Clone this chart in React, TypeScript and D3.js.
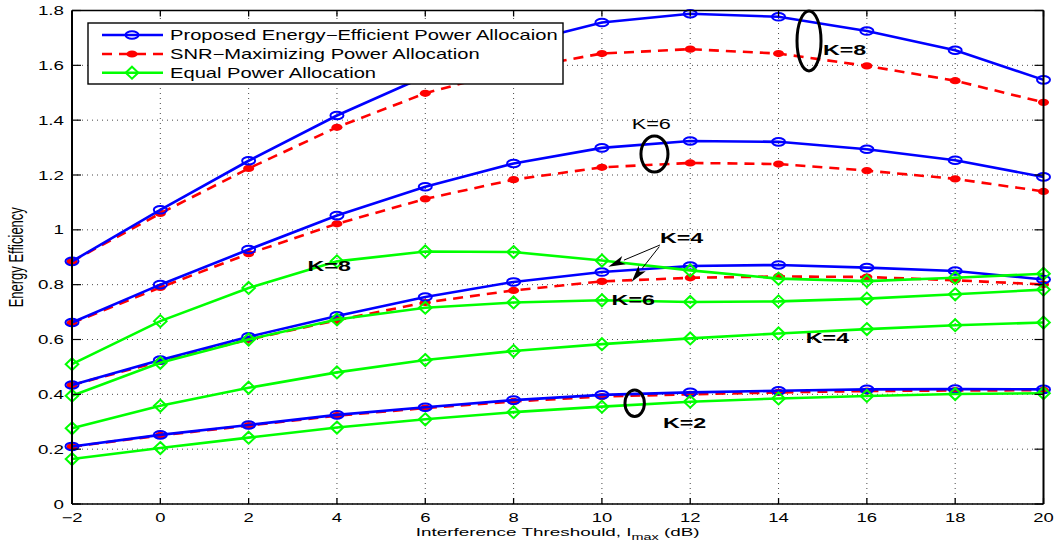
import React from "react";
import * as d3 from "d3";

const xValues = [-2, 0, 2, 4, 6, 8, 10, 12, 14, 16, 18, 20];

const proposedK8 = [0.885, 1.073, 1.252, 1.417, 1.56, 1.675, 1.756, 1.788, 1.777, 1.725, 1.655, 1.547];
const proposedK6 = [0.662, 0.8, 0.928, 1.052, 1.157, 1.242, 1.299, 1.324, 1.321, 1.294, 1.254, 1.193];
const proposedK4 = [0.434, 0.525, 0.61, 0.686, 0.755, 0.81, 0.846, 0.868, 0.872, 0.862, 0.85, 0.819];
const proposedK2 = [0.21, 0.252, 0.288, 0.325, 0.353, 0.379, 0.398, 0.407, 0.413, 0.418, 0.419, 0.418];

const snrK8 = [0.885, 1.06, 1.224, 1.374, 1.498, 1.585, 1.643, 1.659, 1.643, 1.598, 1.544, 1.465];
const snrK6 = [0.66, 0.79, 0.913, 1.022, 1.113, 1.183, 1.228, 1.244, 1.24, 1.216, 1.186, 1.14];
const snrK4 = [0.434, 0.52, 0.6, 0.67, 0.735, 0.779, 0.812, 0.825, 0.83, 0.828, 0.816, 0.801];
const snrK2 = [0.209, 0.25, 0.286, 0.322, 0.35, 0.374, 0.392, 0.4, 0.407, 0.412, 0.414, 0.415];

const equalK8 = [0.51, 0.667, 0.788, 0.885, 0.921, 0.919, 0.888, 0.852, 0.822, 0.813, 0.825, 0.84];
const equalK6 = [0.395, 0.515, 0.6, 0.673, 0.716, 0.735, 0.743, 0.737, 0.739, 0.749, 0.765, 0.782];
const equalK4 = [0.276, 0.358, 0.424, 0.48, 0.525, 0.558, 0.583, 0.604, 0.622, 0.638, 0.652, 0.662];
const equalK2 = [0.164, 0.204, 0.242, 0.279, 0.309, 0.335, 0.355, 0.373, 0.385, 0.394, 0.401, 0.404];

const xTicks = [-2, 0, 2, 4, 6, 8, 10, 12, 14, 16, 18, 20];
const xTickLabels = ["\u22122", "0", "2", "4", "6", "8", "10", "12", "14", "16", "18", "20"];
const yTicks = [0, 0.2, 0.4, 0.6, 0.8, 1, 1.2, 1.4, 1.6, 1.8];
const yTickLabels = ["0", "0.2", "0.4", "0.6", "0.8", "1", "1.2", "1.4", "1.6", "1.8"];

const legendLabels = [
  "Proposed Energy\u2212Efficient Power Allocaion",
  "SNR\u2212Maximizing Power Allocation",
  "Equal Power Allocation",
];

// annotations in data units
const ellipses = [
  { cx: 14.69, cy: 1.689, rx: 0.272, ry: 0.1094 },
  { cx: 11.19, cy: 1.2766, rx: 0.306, ry: 0.0657 },
  { cx: 10.742, cy: 0.3673, rx: 0.2197, ry: 0.0485 },
];
const labels = [
  { text: "K=8", x: 15.006, y: 1.638, bold: true },
  { text: "K=6", x: 10.674, y: 1.366, bold: false },
  { text: "K=4", x: 11.315, y: 0.952, bold: true },
  { text: "K=6", x: 10.22, y: 0.7258, bold: true },
  { text: "K=8", x: 3.335, y: 0.8498, bold: true },
  { text: "K=4", x: 14.617, y: 0.5883, bold: true },
  { text: "K=2", x: 11.383, y: 0.2772, bold: true },
];
const arrows = [
  { x1: 11.315, y1: 0.9447, x2: 10.145, y2: 0.8655 },
  { x1: 11.299, y1: 0.9385, x2: 10.674, y2: 0.8108 },
];

const FONT = "'Liberation Sans', Arial, Helvetica, sans-serif";
const BLUE = "#0000ff";
const RED = "#ff0000";
const GREEN = "#00ff00";

export default function App() {
  const x = d3.scaleLinear().domain([-2, 20]).range([72, 1043.5]);
  const y = d3.scaleLinear().domain([0, 1.8]).range([504, 10.5]);
  const line = d3
    .line<number>()
    .x((_, i) => x(xValues[i]))
    .y((d) => y(d));

  const [x0, x1] = x.range();
  const [yb, yt] = y.range();

  const circle = (cx: number, cy: number, k: string) => (
    <ellipse key={k} cx={cx} cy={cy} rx={6.5} ry={3.8} fill="none" stroke={BLUE} strokeWidth={2} />
  );
  const dot = (cx: number, cy: number, k: string) => (
    <ellipse key={k} cx={cx} cy={cy} rx={5.5} ry={3.6} fill={RED} />
  );
  const diamond = (cx: number, cy: number, k: string) => (
    <path
      key={k}
      d={`M${cx},${cy - 6}L${cx + 6.3},${cy}L${cx},${cy + 6}L${cx - 6.3},${cy}Z`}
      fill="none"
      stroke={GREEN}
      strokeWidth={2}
    />
  );

  const snr = [snrK8, snrK6, snrK4, snrK2];
  const prop = [proposedK8, proposedK6, proposedK4, proposedK2];
  const eq = [equalK8, equalK6, equalK4, equalK2];

  const arrowHead = (a: { x1: number; y1: number; x2: number; y2: number }) => {
    const px1 = x(a.x1), py1 = y(a.y1), px2 = x(a.x2), py2 = y(a.y2);
    const dx = px2 - px1, dy = py2 - py1;
    const L = Math.hypot(dx, dy);
    const ux = dx / L, uy = dy / L;
    const hl = 17, hw = 4.5;
    const bx = px2 - ux * hl, by = py2 - uy * hl;
    const pts = [
      [px2, py2],
      [bx - uy * hw, by + ux * hw],
      [px2 - ux * hl * 0.75, py2 - uy * hl * 0.75],
      [bx + uy * hw, by - ux * hw],
    ];
    return { px1, py1, bx, by, pts };
  };

  return (
    <div style={{ position: "absolute", left: 0, top: 0 }}>
      <svg width={1058} height={548} style={{ display: "block", background: "#fff" }} fontFamily={FONT}>
        <rect x={0} y={0} width={1058} height={548} fill="#fff" />
        {/* grid */}
        {xTicks.map((t, i) => (
          <line key={"gx" + i} x1={x(t)} x2={x(t)} y1={yb} y2={yt} stroke="#333" strokeWidth={0.9} strokeDasharray="1,4" />
        ))}
        {yTicks.map((t, i) => (
          <line key={"gy" + i} x1={x0} x2={x1} y1={y(t)} y2={y(t)} stroke="#333" strokeWidth={0.9} strokeDasharray="1,4" />
        ))}

        {/* SNR series */}
        {snr.map((s, si) => (
          <g key={"snr" + si}>
            <path d={line(s) || ""} fill="none" stroke={RED} strokeWidth={2.6} strokeDasharray="10,7" />
            {s.map((v, i) => dot(x(xValues[i]), y(v), "sd" + si + "-" + i))}
          </g>
        ))}
        {/* proposed */}
        {prop.map((s, si) => (
          <g key={"pr" + si}>
            <path d={line(s) || ""} fill="none" stroke={BLUE} strokeWidth={2.6} />
            {s.map((v, i) => circle(x(xValues[i]), y(v), "pc" + si + "-" + i))}
          </g>
        ))}
        {/* equal */}
        {eq.map((s, si) => (
          <g key={"eq" + si}>
            <path d={line(s) || ""} fill="none" stroke={GREEN} strokeWidth={2.6} />
            {s.map((v, i) => diamond(x(xValues[i]), y(v), "ed" + si + "-" + i))}
          </g>
        ))}

        {/* axes box */}
        <line x1={x0} x2={x1} y1={yb} y2={yb} stroke="#000" strokeWidth={1.4} />
        <line x1={x0} x2={x1} y1={yt} y2={yt} stroke="#000" strokeWidth={1.4} />
        <line x1={x0} x2={x0} y1={yt} y2={yb} stroke="#000" strokeWidth={2} />
        <line x1={x1} x2={x1} y1={yt} y2={yb} stroke="#000" strokeWidth={2} />
        {xTicks.map((t, i) => (
          <g key={"tx" + i}>
            <line x1={x(t)} x2={x(t)} y1={yb} y2={yb - 6} stroke="#000" strokeWidth={1.3} />
            <line x1={x(t)} x2={x(t)} y1={yt} y2={yt + 6} stroke="#000" strokeWidth={1.3} />
            <text
              transform={`translate(${x(t)},521.5) scale(1.5,1)`}
              textAnchor="middle"
              fontSize={12.3}
              fill="#000"
            >
              {xTickLabels[i]}
            </text>
          </g>
        ))}
        {yTicks.map((t, i) => (
          <g key={"ty" + i}>
            <line x1={x0} x2={x0 + 9} y1={y(t)} y2={y(t)} stroke="#000" strokeWidth={1.2} />
            <line x1={x1} x2={x1 - 9} y1={y(t)} y2={y(t)} stroke="#000" strokeWidth={1.2} />
            <text
              transform={`translate(64,${y(t) + 4.5}) scale(1.5,1)`}
              textAnchor="end"
              fontSize={12.5}
              fill="#000"
            >
              {yTickLabels[i]}
            </text>
          </g>
        ))}

        {/* axis labels */}
        <text transform={`translate(${(x0 + x1) / 2},535.5) scale(1.6,1)`} textAnchor="middle" fontSize={11.8} fill="#000">
          Interference Threshould, I
          <tspan fontSize={9} dy={4}>max</tspan>
          <tspan dy={-4}> (dB)</tspan>
        </text>
        <text transform={`translate(23,${(yt + yb) / 2}) scale(1.5,1) rotate(-90)`} textAnchor="middle" fontSize={13} fill="#000">
          Energy Efficiency
        </text>

        {/* annotations */}
        {ellipses.map((e, i) => (
          <ellipse
            key={"el" + i}
            cx={x(e.cx)}
            cy={y(e.cy)}
            rx={x(e.cx + e.rx) - x(e.cx)}
            ry={y(e.cy - e.ry) - y(e.cy)}
            fill="none"
            stroke="#000"
            strokeWidth={3}
          />
        ))}
        {labels.map((l, i) => (
          <text
            key={"lb" + i}
            transform={`translate(${x(l.x)},${y(l.y)}) scale(${l.bold ? 1.55 : 1.45},1)`}
            fontSize={15}
            fontWeight={l.bold ? "bold" : "normal"}
            fill="#000"
          >
            {l.text}
          </text>
        ))}
        {arrows.map((a, i) => {
          const h = arrowHead(a);
          return (
            <g key={"ar" + i}>
              <line x1={h.px1} y1={h.py1} x2={h.bx} y2={h.by} stroke="#000" strokeWidth={1} />
              <polygon points={h.pts.map((p) => p.join(",")).join(" ")} fill="#000" />
            </g>
          );
        })}

        {/* legend */}
        <rect x={88} y={23} width={475} height={61} fill="#fff" stroke="#000" strokeWidth={1.4} />
        {legendLabels.map((lab, i) => {
          const ly = [35, 54, 72.7][i];
          const color = [BLUE, RED, GREEN][i];
          return (
            <g key={"lg" + i}>
              <line
                x1={102}
                x2={163}
                y1={ly}
                y2={ly}
                stroke={color}
                strokeWidth={2.6}
                strokeDasharray={i === 1 ? "10,7" : undefined}
              />
              {i === 0 ? circle(132, ly, "lm0") : i === 1 ? dot(132, ly, "lm1") : diamond(132, ly, "lm2")}
              <text transform={`translate(170,${ly + 5}) scale(1.44,1)`} fontSize={14} fill="#000">
                {lab}
              </text>
            </g>
          );
        })}
      </svg>
    </div>
  );
}
